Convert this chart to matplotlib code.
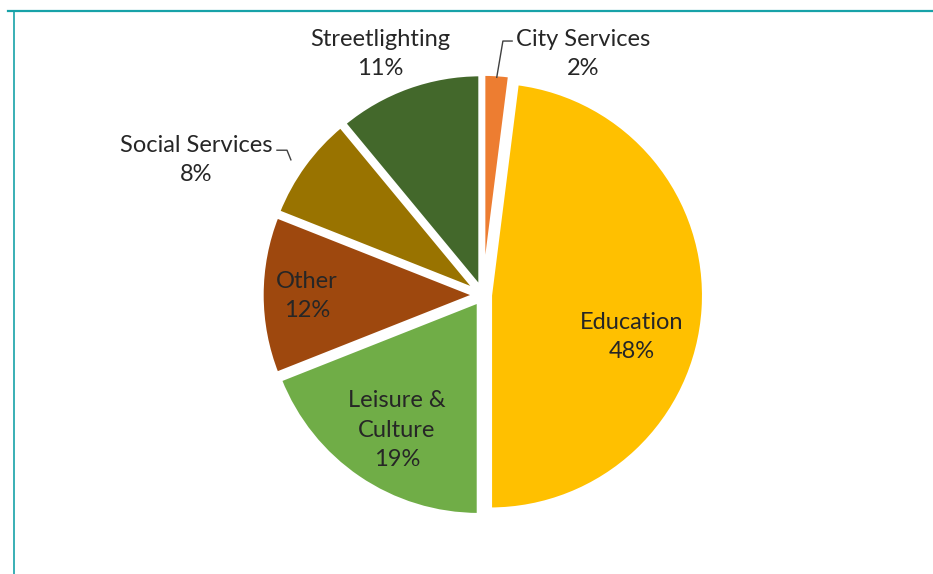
import matplotlib.pyplot as plt
from matplotlib.lines import Line2D

plt.rcParams["font.family"] = ["Lato", "DejaVu Sans"]

# Share of consumption by building type
categories = ["City Services", "Education", "Leisure &\nCulture", "Other",
              "Social Services", "Streetlighting"]
shares = [2, 48, 19, 12, 8, 11]
colors = ["#ED7D31", "#FFC000", "#70AD47", "#9E480E", "#997300", "#43682B"]

# label anchor points (axes data units)
label_pos = [(0.49, 1.176), (0.727, -0.205), (-0.42, -0.66), (-0.86, -0.005),
             (-1.40, 0.66), (-0.50, 1.176)]

fig = plt.figure(figsize=(9.33, 5.74), dpi=100)
ax = fig.add_axes([0.276, 0.093, 0.483, 0.786])

wedges, _ = ax.pie(shares, colors=colors, startangle=90, counterclock=False,
                   explode=[0.035] * len(shares), radius=1.045,
                   wedgeprops=dict(edgecolor="white", linewidth=3))

for name, val, (x, y) in zip(categories, shares, label_pos):
    ax.text(x, y, f"{name}\n{val}%", ha="center", va="center",
            fontsize=17, color="#262626", linespacing=1.5)

# leader lines for the small outside labels
ax.plot([0.068, 0.098, 0.143], [1.063, 1.24, 1.24], color="#404040", lw=1,
        clip_on=False)
ax.plot([-1.005, -0.956, -0.937], [0.707, 0.707, 0.66], color="#404040", lw=1,
        clip_on=False)

ax.set_xlim(-1.1, 1.1)
ax.set_ylim(-1.1, 1.1)
ax.set_aspect("equal")
ax.axis("off")

# teal frame round the chart area
teal = "#17A2A8"
fig.add_artist(Line2D([8 / 933, 1], [1 - 11 / 574, 1 - 11 / 574],
                      color=teal, lw=1.6, transform=fig.transFigure))
fig.add_artist(Line2D([14 / 933, 14 / 933], [0, 1 - 11 / 574],
                      color=teal, lw=1.2, transform=fig.transFigure))

fig.savefig("out.png", dpi=100)
